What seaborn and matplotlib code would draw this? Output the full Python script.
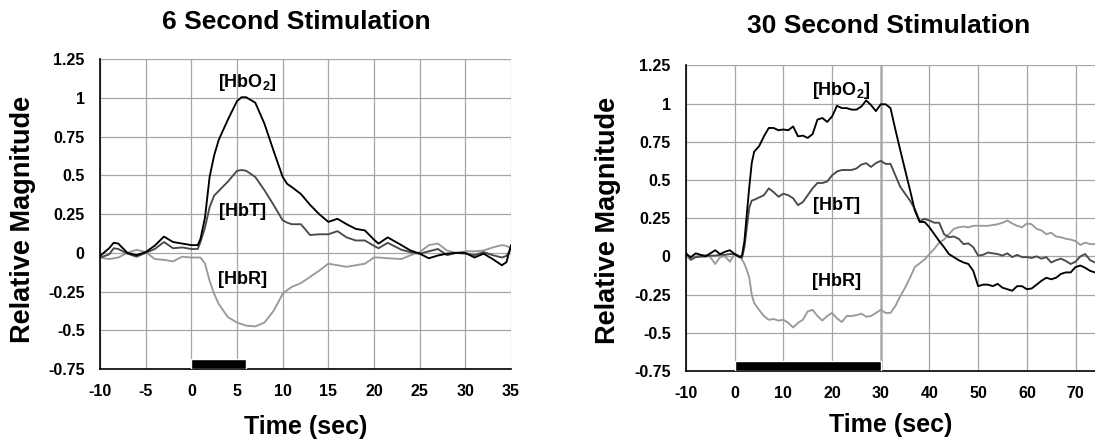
import numpy as np
import pandas as pd
import matplotlib
matplotlib.use("Agg")
import matplotlib.pyplot as plt
import seaborn as sns

# ---- 6 second stimulation ----
t6 = [-10, -9, -8.5, -8, -7, -6, -5, -4, -3, -2, -1, 0, 0.7, 1, 1.5, 2, 2.5, 3, 4, 5,
      5.5, 6, 7, 8, 9, 10, 10.5, 11, 12, 13, 14, 15, 16, 17, 18, 19, 20, 20.5, 21.5,
      23, 24, 25, 26, 27, 28, 29, 30, 31, 32, 33, 34, 34.5, 35]
hbo2_6 = [-0.02, 0.03, 0.065, 0.06, 0.0, -0.015, 0.005, 0.047, 0.105, 0.07, 0.06, 0.05,
          0.05, 0.09, 0.23, 0.49, 0.63, 0.73, 0.86, 0.98, 1.005, 1.005, 0.97, 0.835,
          0.66, 0.49, 0.445, 0.425, 0.38, 0.31, 0.25, 0.20, 0.22, 0.185, 0.155, 0.145,
          0.085, 0.06, 0.10, 0.05, 0.015, -0.005, -0.035, -0.017, -0.005, 0.0, 0.0,
          -0.03, -0.005, -0.04, -0.08, -0.06, 0.05]
hbt_6 = [-0.03, -0.01, 0.03, 0.025, -0.005, -0.025, 0.0, 0.025, 0.07, 0.03, 0.035, 0.025,
         0.025, 0.07, 0.165, 0.295, 0.37, 0.40, 0.46, 0.53, 0.535, 0.53, 0.49, 0.405,
         0.31, 0.21, 0.195, 0.185, 0.185, 0.115, 0.12, 0.12, 0.14, 0.10, 0.08, 0.08,
         0.045, 0.03, 0.065, 0.02, 0.005, -0.005, 0.01, 0.025, -0.015, 0.0, -0.005,
         -0.015, 0.005, -0.015, -0.03, -0.02, 0.025]
hbr_6 = [-0.03, -0.04, -0.035, -0.03, 0.0, 0.02, 0.005, -0.04, -0.045, -0.055, -0.025,
         -0.03, -0.03, -0.03, -0.07, -0.18, -0.265, -0.33, -0.415, -0.45, -0.46, -0.47,
         -0.475, -0.45, -0.375, -0.265, -0.24, -0.22, -0.195, -0.155, -0.115, -0.07,
         -0.08, -0.09, -0.08, -0.07, -0.03, -0.03, -0.035, -0.04, -0.015, 0.005, 0.05,
         0.06, 0.015, 0.0, 0.01, 0.01, 0.015, 0.035, 0.05, 0.045, 0.03]

# ---- 30 second stimulation ----
t30 = [-10, -9, -8, -6, -5, -4, -3, -2, -1, 0, 1, 1.5, 2, 2.5, 3, 3.5] + list(range(4, 75))
hbo2_30 = [0.015, -0.005, 0.02, 0.0, 0.02, 0.04, 0.015, 0.03, 0.04, 0.015, -0.005, 0.005,
           0.10, 0.28, 0.455, 0.61,
           0.685, 0.72, 0.785, 0.84, 0.84, 0.825, 0.83, 0.825, 0.85, 0.785, 0.79, 0.775,
           0.80, 0.895, 0.905, 0.88, 0.915, 0.985, 0.97, 0.97, 0.96, 0.96, 0.98, 1.02,
           0.99, 0.95, 0.995, 0.995, 0.97, 0.83, 0.695, 0.565, 0.435, 0.30, 0.225, 0.225,
           0.19, 0.145, 0.10, 0.06, 0.015, -0.005, -0.025, -0.04, -0.05, -0.095, -0.195,
           -0.185, -0.185, -0.195, -0.18, -0.205, -0.215, -0.225, -0.195, -0.195, -0.215,
           -0.21, -0.185, -0.16, -0.14, -0.15, -0.14, -0.115, -0.105, -0.105, -0.07,
           -0.06, -0.075, -0.095, -0.105]
hbt_30 = [0.025, -0.02, -0.005, 0.0, 0.005, 0.005, 0.01, 0.01, 0.015, 0.015, -0.005, -0.01,
          0.06, 0.19, 0.32, 0.365,
          0.37, 0.385, 0.40, 0.445, 0.42, 0.39, 0.41, 0.40, 0.38, 0.335, 0.355, 0.40,
          0.445, 0.48, 0.48, 0.49, 0.53, 0.555, 0.565, 0.565, 0.565, 0.575, 0.60, 0.61,
          0.585, 0.61, 0.625, 0.605, 0.605, 0.53, 0.455, 0.41, 0.365, 0.31, 0.23, 0.245,
          0.235, 0.22, 0.22, 0.145, 0.125, 0.13, 0.115, 0.08, 0.085, 0.06, 0.005, 0.01,
          0.025, 0.02, 0.015, 0.005, 0.02, -0.005, 0.01, -0.005, -0.005, -0.01, 0.0,
          -0.015, -0.005, -0.04, -0.025, -0.015, -0.03, -0.05, -0.035, 0.0, 0.015,
          -0.025, -0.04]
hbr_30 = [0.005, -0.025, 0.0, 0.01, -0.005, -0.05, -0.005, 0.0, -0.035, 0.015, 0.005, -0.02,
          -0.05, -0.09, -0.14, -0.25,
          -0.305, -0.35, -0.39, -0.415, -0.41, -0.42, -0.415, -0.435, -0.465, -0.435,
          -0.415, -0.36, -0.35, -0.39, -0.42, -0.39, -0.37, -0.405, -0.43, -0.39, -0.39,
          -0.385, -0.375, -0.395, -0.39, -0.37, -0.35, -0.37, -0.37, -0.325, -0.26,
          -0.205, -0.14, -0.07, -0.045, -0.02, 0.015, 0.05, 0.09, 0.11, 0.145, 0.18,
          0.19, 0.195, 0.19, 0.20, 0.20, 0.20, 0.20, 0.205, 0.21, 0.22, 0.235, 0.215,
          0.20, 0.19, 0.215, 0.21, 0.18, 0.17, 0.145, 0.155, 0.13, 0.125, 0.115, 0.11,
          0.10, 0.075, 0.09, 0.08, 0.08]

# stimulus durations (s) and block height for the bar on the axis floor
stim_durations = [6, 30]
stim_height = 0.065

titles = ["6 Second Stimulation", "30 Second Stimulation"]
y_ticks = [-0.75, -0.5, -0.25, 0, 0.25, 0.5, 0.75, 1, 1.25]
y_tick_labels = ["-0.75", "-0.5", "-0.25", "0", "0.25", "0.5", "0.75", "1", "1.25"]
x_ticks_6 = [-10, -5, 0, 5, 10, 15, 20, 25, 30, 35]
x_ticks_30 = [-10, 0, 10, 20, 30, 40, 50, 60, 70]

sns.set_theme(style="white")
plt.rcParams["font.family"] = ["Liberation Sans", "DejaVu Sans"]
plt.rcParams["font.weight"] = "bold"
plt.rcParams["text.color"] = "black"
plt.rcParams["axes.labelcolor"] = "black"
plt.rcParams["xtick.color"] = "black"
plt.rcParams["ytick.color"] = "black"
plt.rcParams["mathtext.fontset"] = "custom"
plt.rcParams["mathtext.rm"] = "Liberation Sans:bold"
plt.rcParams["mathtext.bf"] = "Liberation Sans:bold"

W, H = 1095, 442
fig = plt.figure(figsize=(W / 100, H / 100), dpi=100)


def px_box(x0, y_top, x1, y_bot):
    return [x0 / W, 1 - y_bot / H, (x1 - x0) / W, (y_bot - y_top) / H]


ax1 = fig.add_axes(px_box(100, 59.3, 511, 369))
ax2 = fig.add_axes(px_box(686, 65.3, 1095, 371))

colors = {"HbO2": "#000000", "HbT": "#4a4a4a", "HbR": "#9a9a9a"}

panels = [
    (ax1, t6, hbo2_6, hbt_6, hbr_6, (-10, 35), x_ticks_6, stim_durations[0]),
    (ax2, t30, hbo2_30, hbt_30, hbr_30, (-10, 74.0), x_ticks_30, stim_durations[1]),
]

for ax, t, ho, ht, hr, xlim, xt, dur in panels:
    df = pd.DataFrame({"t": t, "HbO2": ho, "HbT": ht, "HbR": hr})
    long = df.melt(id_vars="t", var_name="species", value_name="value")
    sns.lineplot(data=long, x="t", y="value", hue="species",
                 hue_order=["HbR", "HbT", "HbO2"], palette=colors,
                 linewidth=1.35, ax=ax, legend=False, estimator=None)
    ax.bar([0], [stim_height], width=dur, bottom=-0.75, align="edge",
           color="black", zorder=3)
    ax.set_xlim(*xlim)
    ax.set_ylim(-0.75, 1.25)
    ax.set_xticks(xt)
    ax.set_xticklabels([str(v) for v in xt])
    ax.set_yticks(y_ticks)
    ax.set_yticklabels(y_tick_labels)
    ax.set_xlabel("")
    ax.set_ylabel("")
    ax.set_axisbelow(True)
    ax.grid(True, color="#a6a6a6", linewidth=0.9)
    for s in ["top", "right"]:
        ax.spines[s].set_visible(False)
    for s in ["left", "bottom"]:
        ax.spines[s].set_color("black")
        ax.spines[s].set_linewidth(1.2)
    ax.tick_params(axis="both", direction="out", length=5, width=1,
                   color="black", labelsize=11.5, labelcolor="black")
    ax.tick_params(axis="x", pad=6)
    ax.tick_params(axis="y", pad=6)
    for lab in ax.get_xticklabels() + ax.get_yticklabels():
        lab.set_fontweight("bold")

# end of the 30 s stimulus marked on the grid
ax2.axvline(stim_durations[1], color="#b4b4b4", linewidth=1.8, zorder=0.5)

lab_kw = dict(fontsize=13, fontweight="bold", ha="center", va="center", color="black")
ax1.text(6.1, 1.097, r"[HbO$_\mathbf{2}$]", **lab_kw)
ax1.text(5.6, 0.266, "[HbT]", **lab_kw)
ax1.text(5.6, -0.175, "[HbR]", **lab_kw)
ax2.text(22.0, 1.088, r"[HbO$_\mathbf{2}$]", **lab_kw)
ax2.text(20.9, 0.336, "[HbT]", **lab_kw)
ax2.text(21.0, -0.166, "[HbR]", **lab_kw)


def fig_text(x, y, s, **kw):
    fig.text(x / W, 1 - y / H, s, ha="center", va="center", fontweight="bold",
             color="black", **kw)


fig_text(296, 22, titles[0], fontsize=19)
fig_text(889, 26, titles[1], fontsize=19)
fig_text(23, 219, "Relative Magnitude", fontsize=19.5, rotation=90)
fig_text(608, 220, "Relative Magnitude", fontsize=19.5, rotation=90)
fig_text(306, 427, "Time (sec)", fontsize=18)
fig_text(891, 425, "Time (sec)", fontsize=18)

fig.savefig("out.png", dpi=100, facecolor="white")
